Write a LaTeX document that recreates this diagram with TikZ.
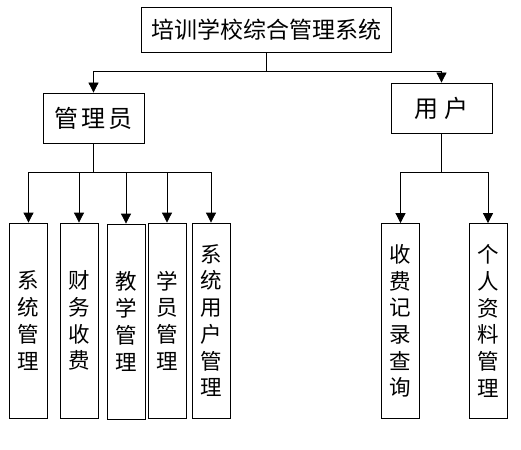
\documentclass[tikz,border=0pt]{standalone}
\usepackage{fontspec}
\newfontfamily\cjk{Noto Sans CJK SC}
\usetikzlibrary{arrows.meta}
\begin{document}
\begin{tikzpicture}[x=1pt,y=-1pt]

\tikzstyle{box}=[draw=black, line width=0.8pt, inner sep=0pt, align=center]
\tikzstyle{topbox}=[box, minimum width=250pt, minimum height=45pt, font=\cjk\fontsize{23}{26}\selectfont]
\tikzstyle{rolebox}=[box, minimum width=101pt, minimum height=50pt, font=\cjk\fontsize{24}{28}\selectfont]
\tikzstyle{funcbox}=[box, minimum width=38pt, minimum height=195pt, text width=38pt, font=\cjk\fontsize{21.5}{26.7}\selectfont]
\tikzstyle{link}=[line width=0.8pt, -{Triangle[length=10pt,width=10pt]}]

\useasboundingbox (0,0) rectangle (521,449);

\node[topbox] (title) at (266,29.5) {培训学校综合管理系统};
\node[rolebox] (admin) at (93.5,118) {管\hspace{3pt}理\hspace{3pt}员};
\node[rolebox] (user) at (441.5,108) {用\hspace{6pt}户};

\node[funcbox] (sysmgmt) at (28.5,320.5) {系\\统\\管\\理};
\node[funcbox] (finance) at (79,320.5) {财\\务\\收\\费};
\node[funcbox] (teaching) at (126,321.5) {教\\学\\管\\理};
\node[funcbox] (student) at (167,320.5) {学\\员\\管\\理};
\node[funcbox] (account) at (211,320.5) {系\\统\\用\\户\\管\\理};
\node[funcbox] (feequery) at (400.5,321) {收\\费\\记\\录\\查\\询};
\node[funcbox] (profile) at (488,321) {个\\人\\资\\料\\管\\理};

\draw[link] (title.south) -- ++(0,19) -| (admin.north);
\draw[link] (title.south) -- ++(0,19) -| (user.north);

\foreach \f in {sysmgmt,finance,teaching,student,account}
  \draw[link] (admin.south) -- ++(0,29) -| (\f.north);
\foreach \f in {feequery,profile}
  \draw[link] (user.south) -- ++(0,39) -| (\f.north);

\end{tikzpicture}
\end{document}
